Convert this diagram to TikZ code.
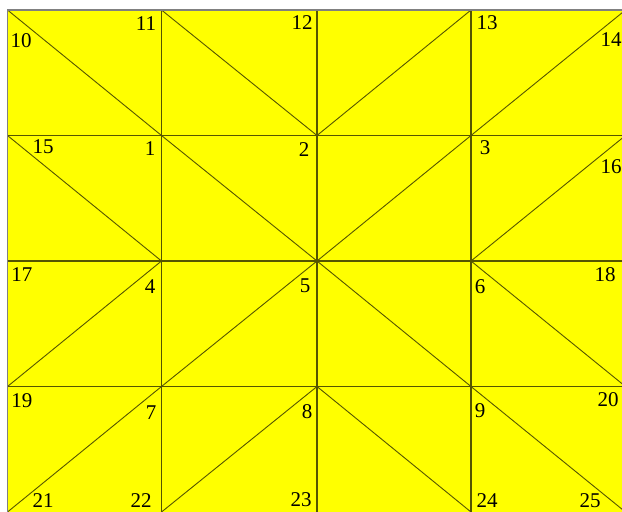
\documentclass[tikz,border=0pt]{standalone}
\usepackage{fontspec}
\setmainfont{Liberation Serif}
\definecolor{gridc}{HTML}{555500}
\definecolor{framec}{HTML}{808080}
\definecolor{fillc}{HTML}{FFFF00}
\tikzset{
  gridline/.style={draw=gridc, line width=1.3pt},
  diagline/.style={draw=gridc, line width=0.9pt},
  frameline/.style={draw=framec, line width=1.4pt},
  lbl/.style={inner sep=0pt, anchor=center, font=\fontsize{21}{23}\selectfont, text=black}
}
\begin{document}
\begin{tikzpicture}[x=1pt,y=-1pt]
\useasboundingbox (0,0) rectangle (622,512);
\clip (0,0) rectangle (622,512);
% grid coordinates
\foreach \i/\x in {0/7.5,1/161.5,2/317,3/471,4/625.5}{
  \foreach \j/\y in {0/10,1/135.5,2/261,3/386.5,4/512}{
    \coordinate (p\i\j) at (\x,\y);
  }
}
\fill[fillc] (p00) rectangle (p44);
% grid lines
\foreach \i in {1,2,3}{ \draw[gridline] (p\i0) -- (p\i4); }
\foreach \j in {1,2,3}{ \draw[gridline] (p0\j) -- (p4\j); }
% diagonals
\draw[diagline] (p00) -- (p11);
\draw[diagline] (p10) -- (p21);
\draw[diagline] (p21) -- (p30);
\draw[diagline] (p31) -- (p40);
\draw[diagline] (p01) -- (p12);
\draw[diagline] (p11) -- (p22);
\draw[diagline] (p22) -- (p31);
\draw[diagline] (p32) -- (p41);
\draw[diagline] (p03) -- (p12);
\draw[diagline] (p13) -- (p22);
\draw[diagline] (p22) -- (p33);
\draw[diagline] (p32) -- (p43);
\draw[diagline] (p04) -- (p13);
\draw[diagline] (p14) -- (p23);
\draw[diagline] (p23) -- (p34);
\draw[diagline] (p33) -- (p44);
% frame (top and left)
\draw[frameline] (p04) -- (p00) -- (p40);
% labels
\node[lbl] (l10) at (21,41) {10};
\node[lbl] (l11) at (146,24) {11};
\node[lbl] (l12) at (302,23) {12};
\node[lbl] (l13) at (487,23) {13};
\node[lbl] (l14) at (611,40) {14};
\node[lbl] (l15) at (43,147) {15};
\node[lbl] (l1) at (150,149) {1};
\node[lbl] (l2) at (304,150) {2};
\node[lbl] (l3) at (485,148) {3};
\node[lbl] (l16) at (611,167) {16};
\node[lbl] (l17) at (22,275) {17};
\node[lbl] (l4) at (150,287) {4};
\node[lbl] (l5) at (305,286) {5};
\node[lbl] (l6) at (480,287) {6};
\node[lbl] (l18) at (605,275) {18};
\node[lbl] (l19) at (22,401) {19};
\node[lbl] (l7) at (151,413) {7};
\node[lbl] (l8) at (307,412) {8};
\node[lbl] (l9) at (480,411) {9};
\node[lbl] (l20) at (608,400) {20};
\node[lbl] (l21) at (43,501) {21};
\node[lbl] (l22) at (141,501) {22};
\node[lbl] (l23) at (301,500) {23};
\node[lbl] (l24) at (487,501) {24};
\node[lbl] (l25) at (590,501) {25};
\end{tikzpicture}
\end{document}
